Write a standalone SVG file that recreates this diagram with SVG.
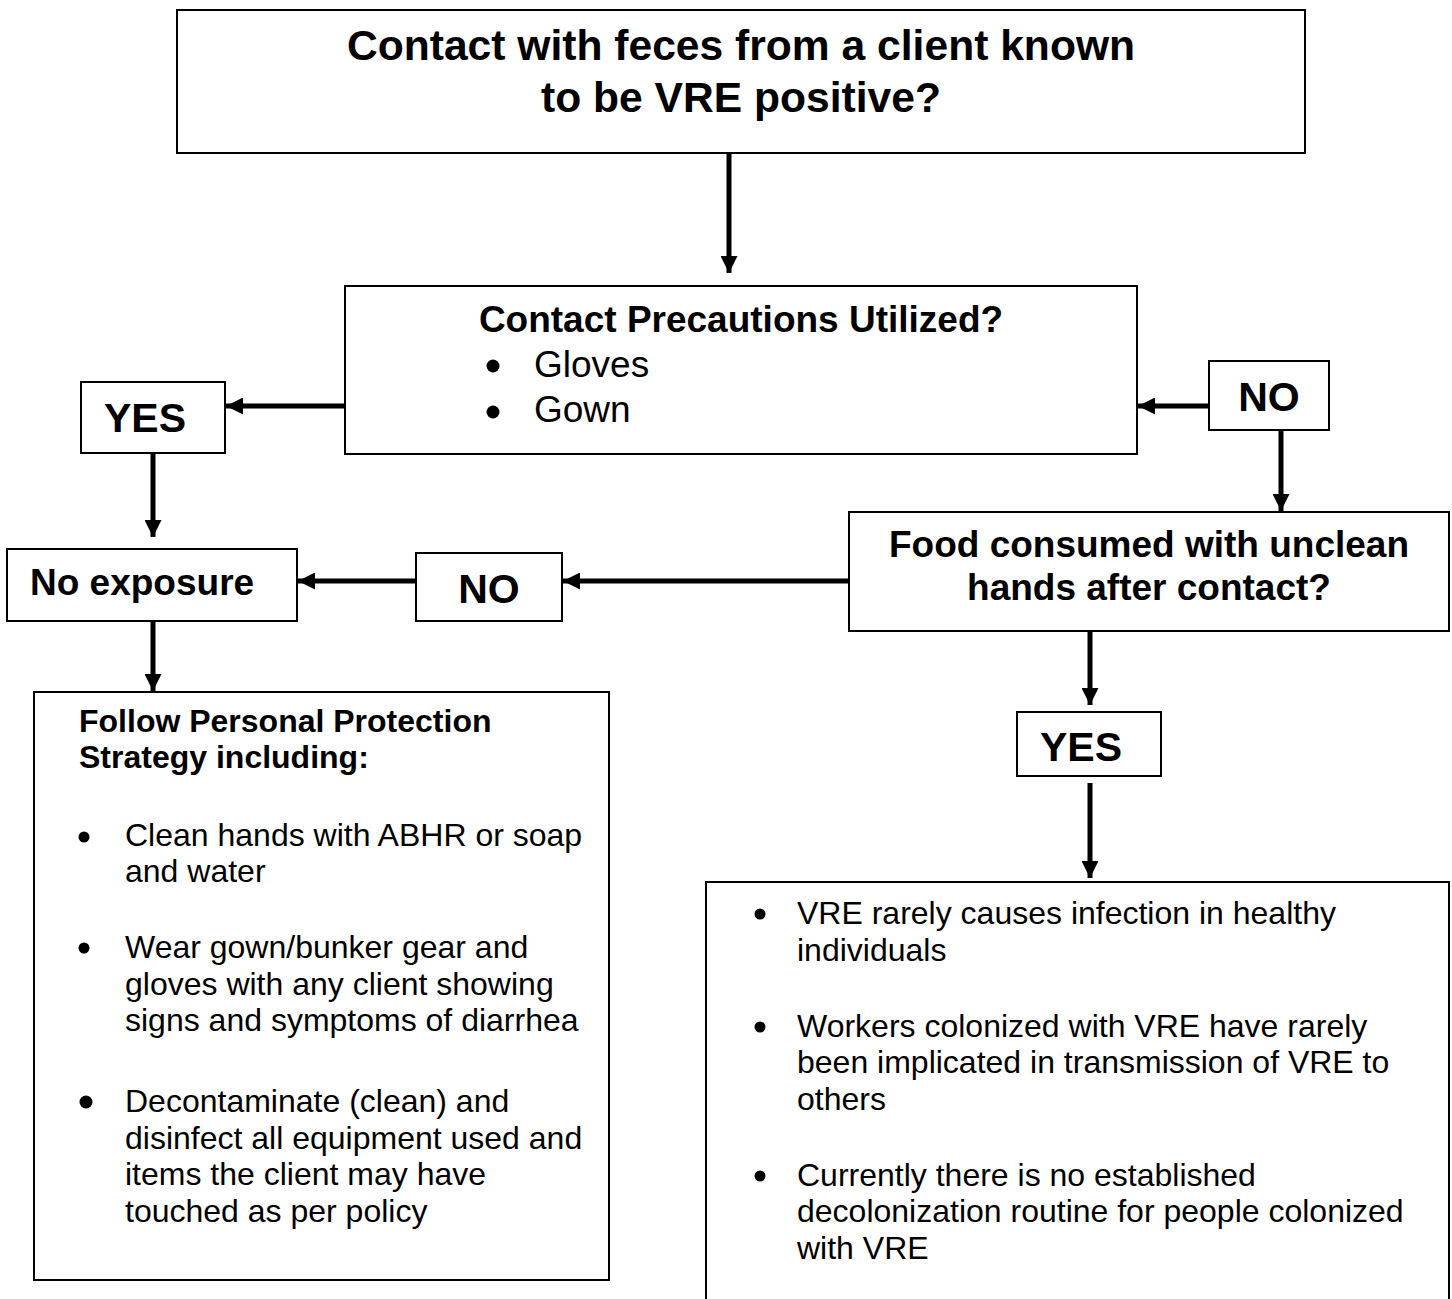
<svg xmlns="http://www.w3.org/2000/svg" width="1452" height="1299" viewBox="0 0 1452 1299">
<style>
.box{fill:#fff;stroke:#000;stroke-width:2}
.b{font-family:"Liberation Sans",Arial,sans-serif;font-weight:bold;fill:#000}
.r{font-family:"Liberation Sans",Arial,sans-serif;fill:#000}
.c{stroke:#000;stroke-width:5;fill:none}
</style>
<defs>
<marker id="ah" viewBox="0 0 17 17" refX="17" refY="8.5" markerWidth="17" markerHeight="17" markerUnits="userSpaceOnUse" orient="auto">
<path d="M0,0 L17,8.5 L0,17 z" fill="#000"/>
</marker>
</defs>
<rect width="1452" height="1299" fill="#fff"/>
<g id="n-top">
<rect class="box" x="177" y="10" width="1128" height="143"/>
<text class="b" font-size="42.6" x="741" y="60" text-anchor="middle">Contact with feces from a client known</text>
<text class="b" font-size="42.6" x="741" y="112" text-anchor="middle">to be VRE positive?</text>
</g>
<g id="n-precautions">
<rect class="box" x="345" y="286" width="792" height="168"/>
<text class="b" font-size="37" x="741" y="332" text-anchor="middle">Contact Precautions Utilized?</text>
<circle cx="493" cy="366" r="6.5"/>
<text class="r" font-size="37" x="534" y="377">Gloves</text>
<circle cx="493" cy="412" r="6.5"/>
<text class="r" font-size="37" x="534" y="422">Gown</text>
</g>
<g id="n-yes1">
<rect class="box" x="81" y="382" width="144" height="71"/>
<text class="b" font-size="41" x="104" y="432">YES</text>
</g>
<g id="n-no1">
<rect class="box" x="1209" y="361" width="120" height="69"/>
<text class="b" font-size="41" x="1269" y="411" text-anchor="middle">NO</text>
</g>
<g id="n-food">
<rect class="box" x="849" y="512" width="600" height="119"/>
<text class="b" font-size="37" x="1149" y="557" text-anchor="middle">Food consumed with unclean</text>
<text class="b" font-size="37" x="1149" y="600" text-anchor="middle">hands after contact?</text>
</g>
<g id="n-noexposure">
<rect class="box" x="7" y="549" width="290" height="72"/>
<text class="b" font-size="37" x="30" y="595">No exposure</text>
</g>
<g id="n-no2">
<rect class="box" x="416" y="553" width="146" height="68"/>
<text class="b" font-size="41" x="489" y="603" text-anchor="middle">NO</text>
</g>
<g id="n-yes2">
<rect class="box" x="1017" y="712" width="144" height="64"/>
<text class="b" font-size="41" x="1040" y="761">YES</text>
</g>
<g id="n-strategy">
<rect class="box" x="34" y="692" width="575" height="588"/>
<text class="b" font-size="32" x="79" y="732">Follow Personal Protection</text>
<text class="b" font-size="32" x="79" y="768">Strategy including:</text>
<circle cx="84" cy="837" r="5.5"/>
<text class="r" font-size="32" x="125" y="846">Clean hands with ABHR or soap</text>
<text class="r" font-size="32" x="125" y="882">and water</text>
<circle cx="84" cy="948" r="5.5"/>
<text class="r" font-size="32" x="125" y="958">Wear gown/bunker gear and</text>
<text class="r" font-size="32" x="125" y="995">gloves with any client showing</text>
<text class="r" font-size="32" x="125" y="1031">signs and symptoms of diarrhea</text>
<circle cx="86" cy="1102" r="6.5"/>
<text class="r" font-size="32" x="125" y="1112">Decontaminate (clean) and</text>
<text class="r" font-size="32" x="125" y="1149">disinfect all equipment used and</text>
<text class="r" font-size="32" x="125" y="1185">items the client may have</text>
<text class="r" font-size="32" x="125" y="1222">touched as per policy</text>
</g>
<g id="n-facts">
<rect class="box" x="706" y="882" width="743" height="430"/>
<circle cx="760" cy="914" r="5.5"/>
<text class="r" font-size="32" x="797" y="924">VRE rarely causes infection in healthy</text>
<text class="r" font-size="32" x="797" y="961">individuals</text>
<circle cx="760" cy="1027" r="5.5"/>
<text class="r" font-size="32" x="797" y="1037">Workers colonized with VRE have rarely</text>
<text class="r" font-size="32" x="797" y="1073">been implicated in transmission of VRE to</text>
<text class="r" font-size="32" x="797" y="1110">others</text>
<circle cx="760" cy="1176" r="5.5"/>
<text class="r" font-size="32" x="797" y="1186">Currently there is no established</text>
<text class="r" font-size="32" x="797" y="1222">decolonization routine for people colonized</text>
<text class="r" font-size="32" x="797" y="1259">with VRE</text>
</g>
<g id="connectors">
<line class="c" x1="729" y1="153" x2="729" y2="273" marker-end="url(#ah)"/>
<line class="c" x1="345" y1="406" x2="226" y2="406" marker-end="url(#ah)"/>
<line class="c" x1="153" y1="453" x2="153" y2="537" marker-end="url(#ah)"/>
<line class="c" x1="1209" y1="406" x2="1138" y2="406" marker-end="url(#ah)"/>
<line class="c" x1="1281" y1="430" x2="1281" y2="511" marker-end="url(#ah)"/>
<line class="c" x1="849" y1="581" x2="563" y2="581" marker-end="url(#ah)"/>
<line class="c" x1="416" y1="581" x2="298" y2="581" marker-end="url(#ah)"/>
<line class="c" x1="153" y1="621" x2="153" y2="691" marker-end="url(#ah)"/>
<line class="c" x1="1090" y1="631" x2="1090" y2="705" marker-end="url(#ah)"/>
<line class="c" x1="1090" y1="783" x2="1090" y2="878" marker-end="url(#ah)"/>
</g>
</svg>
